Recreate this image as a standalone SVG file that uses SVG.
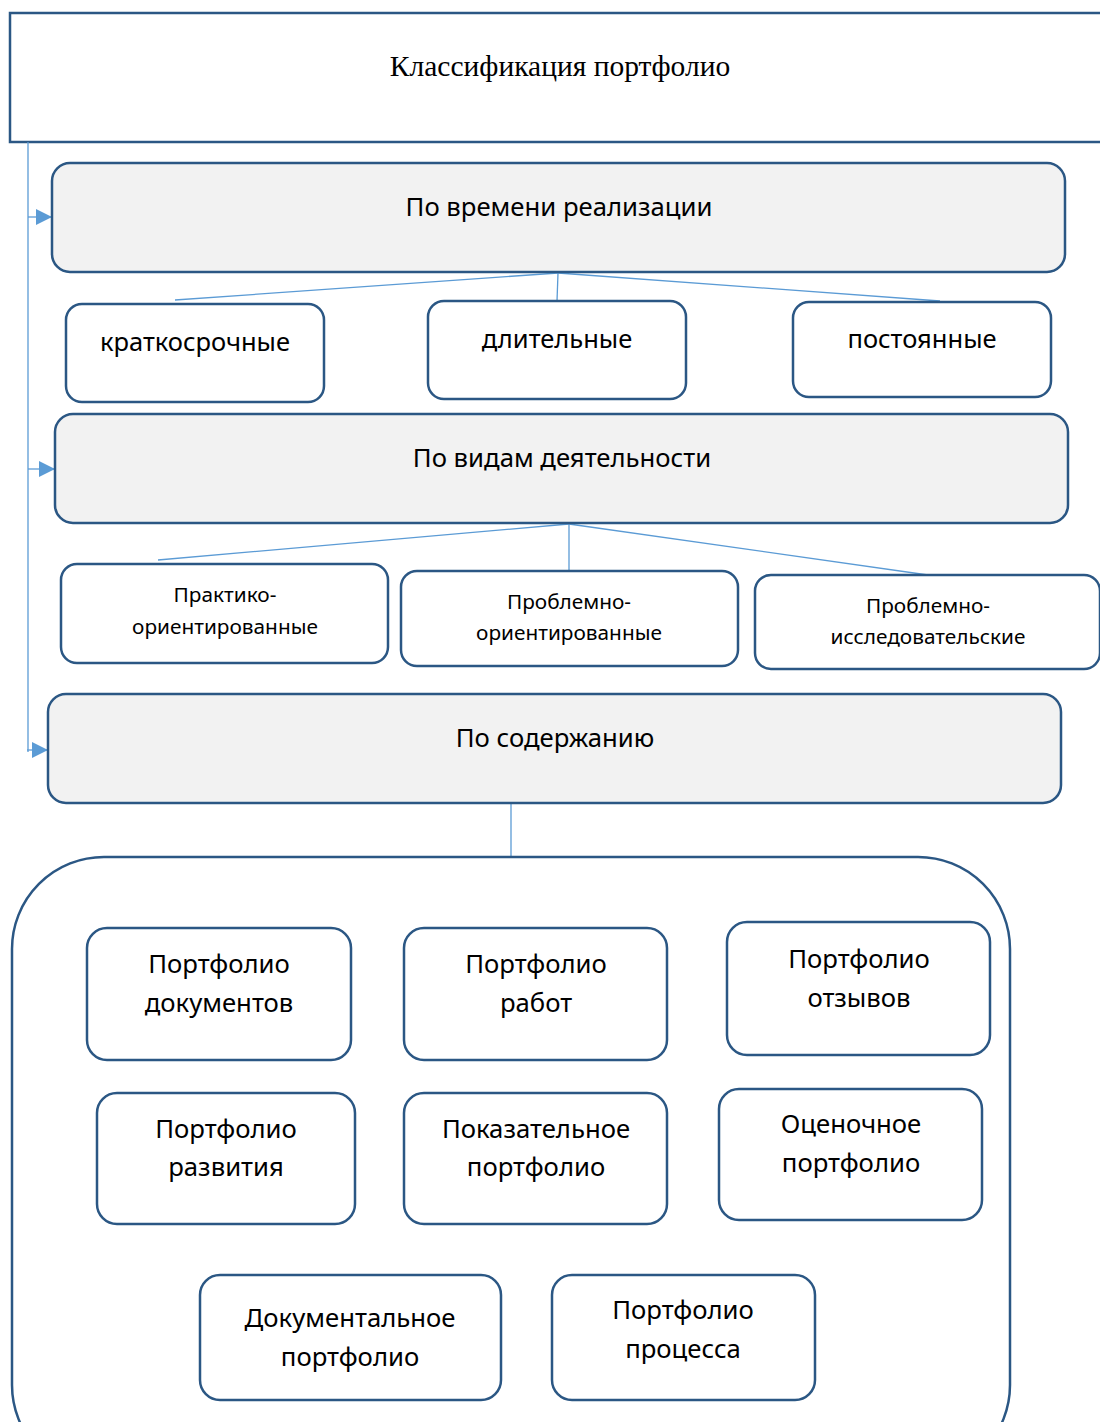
<svg xmlns="http://www.w3.org/2000/svg" width="1100" height="1422" viewBox="0 0 1100 1422">
<style>
.box{fill:#ffffff;stroke:#2b5784;stroke-width:2.5}
.cat{fill:#f2f2f2;stroke:#2b5784;stroke-width:2.5}
.con{fill:none;stroke:#5b9bd5;stroke-width:1.3}
text{font-family:"Noto Sans","Open Sans",sans-serif;fill:#000;text-anchor:middle}
.t1{font-size:25.7px}
.t2{font-size:25.5px}
.t3{font-size:20.8px}
.t4{font-size:25.7px}
.title{font-family:"Liberation Serif",serif;font-size:29.5px}
</style>
<defs>
<marker id="ah" viewBox="0 0 16 16" refX="16" refY="8" markerWidth="16" markerHeight="16" markerUnits="userSpaceOnUse" orient="auto">
<path d="M0,0 L16,8 L0,16 z" fill="#5b9bd5"/>
</marker>
</defs>

<g id="root">
<rect x="10" y="13" width="1100" height="129" fill="#fff" stroke="#2b5784" stroke-width="2.5"/>
<text class="title" x="560" y="76">Классификация портфолио</text>
</g>

<g id="connectors">
<line class="con" x1="28" y1="142" x2="28" y2="752"/>
<line class="con" x1="28" y1="217" x2="52" y2="217" marker-end="url(#ah)"/>
<line class="con" x1="28" y1="469" x2="55" y2="469" marker-end="url(#ah)"/>
<line class="con" x1="27" y1="750" x2="48" y2="750" marker-end="url(#ah)"/>
<line class="con" x1="558" y1="273" x2="175" y2="300"/>
<line class="con" x1="558" y1="273" x2="557" y2="301"/>
<line class="con" x1="558" y1="273" x2="940" y2="301"/>
<line class="con" x1="569" y1="524" x2="158" y2="560"/>
<line class="con" x1="569" y1="524" x2="569" y2="571"/>
<line class="con" x1="569" y1="524" x2="928" y2="575"/>
<line class="con" x1="511" y1="803" x2="511" y2="857"/>
</g>

<g id="cat1">
<rect class="cat" x="52" y="163" width="1013" height="109" rx="18"/>
<text class="t1" x="559" y="216">По времени реализации</text>
</g>
<g id="short">
<rect class="box" x="66" y="304" width="258" height="98" rx="16"/>
<text class="t2" x="195" y="351">краткосрочные</text>
</g>
<g id="long">
<rect class="box" x="428" y="301" width="258" height="98" rx="16"/>
<text class="t2" x="557" y="348">длительные</text>
</g>
<g id="perm">
<rect class="box" x="793" y="302" width="258" height="95" rx="16"/>
<text class="t2" x="922" y="348">постоянные</text>
</g>

<g id="cat2">
<rect class="cat" x="55" y="414" width="1013" height="109" rx="18"/>
<text class="t1" x="562" y="467">По видам деятельности</text>
</g>
<g id="prakt">
<rect class="box" x="61" y="564" width="327" height="99" rx="16"/>
<text class="t3" x="225" y="602">Практико-</text>
<text class="t3" x="225" y="634">ориентированные</text>
</g>
<g id="probl-or">
<rect class="box" x="401" y="571" width="337" height="95" rx="16"/>
<text class="t3" x="569" y="609">Проблемно-</text>
<text class="t3" x="569" y="640">ориентированные</text>
</g>
<g id="probl-is">
<rect class="box" x="755" y="575" width="345" height="94" rx="16"/>
<text class="t3" x="928" y="613">Проблемно-</text>
<text class="t3" x="928" y="644">исследовательские</text>
</g>

<g id="cat3">
<rect class="cat" x="48" y="694" width="1013" height="109" rx="18"/>
<text class="t1" x="555" y="747">По содержанию</text>
</g>

<g id="container">
<rect x="12" y="857" width="998" height="620" rx="92" fill="#fff" stroke="#2b5784" stroke-width="2.5"/>
</g>

<g id="docs">
<rect class="box" x="87" y="928" width="264" height="132" rx="20"/>
<text class="t4" x="219" y="973">Портфолио</text>
<text class="t4" x="219" y="1012">документов</text>
</g>
<g id="works">
<rect class="box" x="404" y="928" width="263" height="132" rx="20"/>
<text class="t4" x="536" y="973">Портфолио</text>
<text class="t4" x="536" y="1012">работ</text>
</g>
<g id="reviews">
<rect class="box" x="727" y="922" width="263" height="133" rx="20"/>
<text class="t4" x="859" y="968">Портфолио</text>
<text class="t4" x="859" y="1007">отзывов</text>
</g>
<g id="devel">
<rect class="box" x="97" y="1093" width="258" height="131" rx="20"/>
<text class="t4" x="226" y="1138">Портфолио</text>
<text class="t4" x="226" y="1176">развития</text>
</g>
<g id="show">
<rect class="box" x="404" y="1093" width="263" height="131" rx="20"/>
<text class="t4" x="536" y="1138">Показательное</text>
<text class="t4" x="536" y="1176">портфолио</text>
</g>
<g id="eval">
<rect class="box" x="719" y="1089" width="263" height="131" rx="20"/>
<text class="t4" x="851" y="1133">Оценочное</text>
<text class="t4" x="851" y="1172">портфолио</text>
</g>
<g id="documentary">
<rect class="box" x="200" y="1275" width="301" height="125" rx="20"/>
<text class="t4" x="350" y="1327">Документальное</text>
<text class="t4" x="350" y="1366">портфолио</text>
</g>
<g id="process">
<rect class="box" x="552" y="1275" width="263" height="125" rx="20"/>
<text class="t4" x="683" y="1319">Портфолио</text>
<text class="t4" x="683" y="1358">процесса</text>
</g>
</svg>
